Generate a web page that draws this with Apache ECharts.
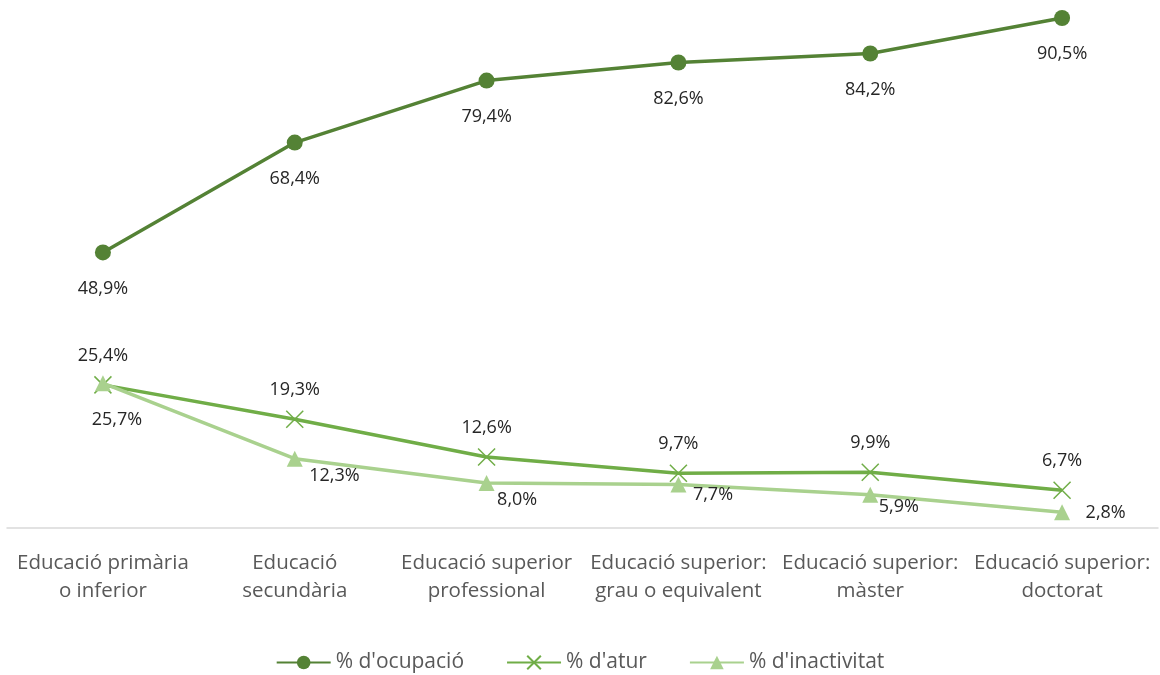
<!DOCTYPE html>
<html><head><meta charset="utf-8">
<script src="https://cdn.jsdelivr.net/npm/echarts@6/dist/echarts.min.js"></script>
<style>html,body{margin:0;padding:0;background:#fff}#c{width:1160px;height:675px}</style>
</head><body><div id="c"></div>
<script>
const categories = ["Educació primària\no inferior","Educació\nsecundària","Educació superior\nprofessional","Educació superior:\ngrau o equivalent","Educació superior:\nmàster","Educació superior:\ndoctorat"];
const ocupacio = [48.9, 68.4, 79.4, 82.6, 84.2, 90.5];
const atur = [25.4, 19.3, 12.6, 9.7, 9.9, 6.7];
const inactivitat = [25.7, 12.3, 8.0, 7.7, 5.9, 2.8];
const seriesNames = ["% d'ocupació","% d'atur","% d'inactivitat"];

const FONT = "Open Sans";
const fmt = p => p.value.toFixed(1).replace('.', ',') + '%';
const chart = echarts.init(document.getElementById('c'));
const inactOffsets = [[14,0],[6.5,17],[2.5,17],[6.5,10],[0.5,12],[15.5,1]];
chart.setOption({
  animation:false,
  textStyle:{fontFamily:FONT},
  grid:{left:7,right:2,top:18,bottom:147},
  xAxis:{type:'category',data:categories,boundaryGap:true,
    axisLine:{lineStyle:{color:'#d9d9d9',width:1.5}},axisTick:{show:false},
    axisLabel:{color:'#595959',fontSize:20.5,lineHeight:28,margin:21,fontFamily:FONT,interval:0}},
  yAxis:{type:'value',min:0,max:90.5,show:false,splitLine:{show:false}},
  legend:{top:647,left:'center',itemWidth:54,itemHeight:17,itemGap:42,
    textStyle:{color:'#595959',fontSize:21,fontFamily:FONT},
    data:seriesNames},
  series:[
    {name:seriesNames[0],type:'line',data:ocupacio,symbol:'circle',symbolSize:16,
      lineStyle:{color:'#548235',width:3.5},itemStyle:{color:'#548235'},
      label:{show:true,position:'bottom',distance:19,color:'#262626',fontSize:18,formatter:fmt}},
    {name:seriesNames[1],type:'line',data:atur,symbol:'path://M0,0L10,10M10,0L0,10',symbolSize:17,
      lineStyle:{color:'#70AD47',width:3.5},itemStyle:{color:'#70AD47',borderColor:'#70AD47',borderWidth:1.5},
      label:{show:true,position:'top',distance:11,color:'#262626',fontSize:18,formatter:fmt}},
    {name:seriesNames[2],type:'line',symbol:'triangle',symbolSize:16,
      data:inactivitat.map((v,i)=>({value:v,label: i===0 ? {position:'bottom',distance:20,offset:inactOffsets[i]} : {position:'right',distance:0,offset:inactOffsets[i]}})),
      lineStyle:{color:'#A9D18E',width:3.5},itemStyle:{color:'#A9D18E'},
      label:{show:true,color:'#262626',fontSize:18,formatter:fmt}}
  ]
});
</script></body></html>
